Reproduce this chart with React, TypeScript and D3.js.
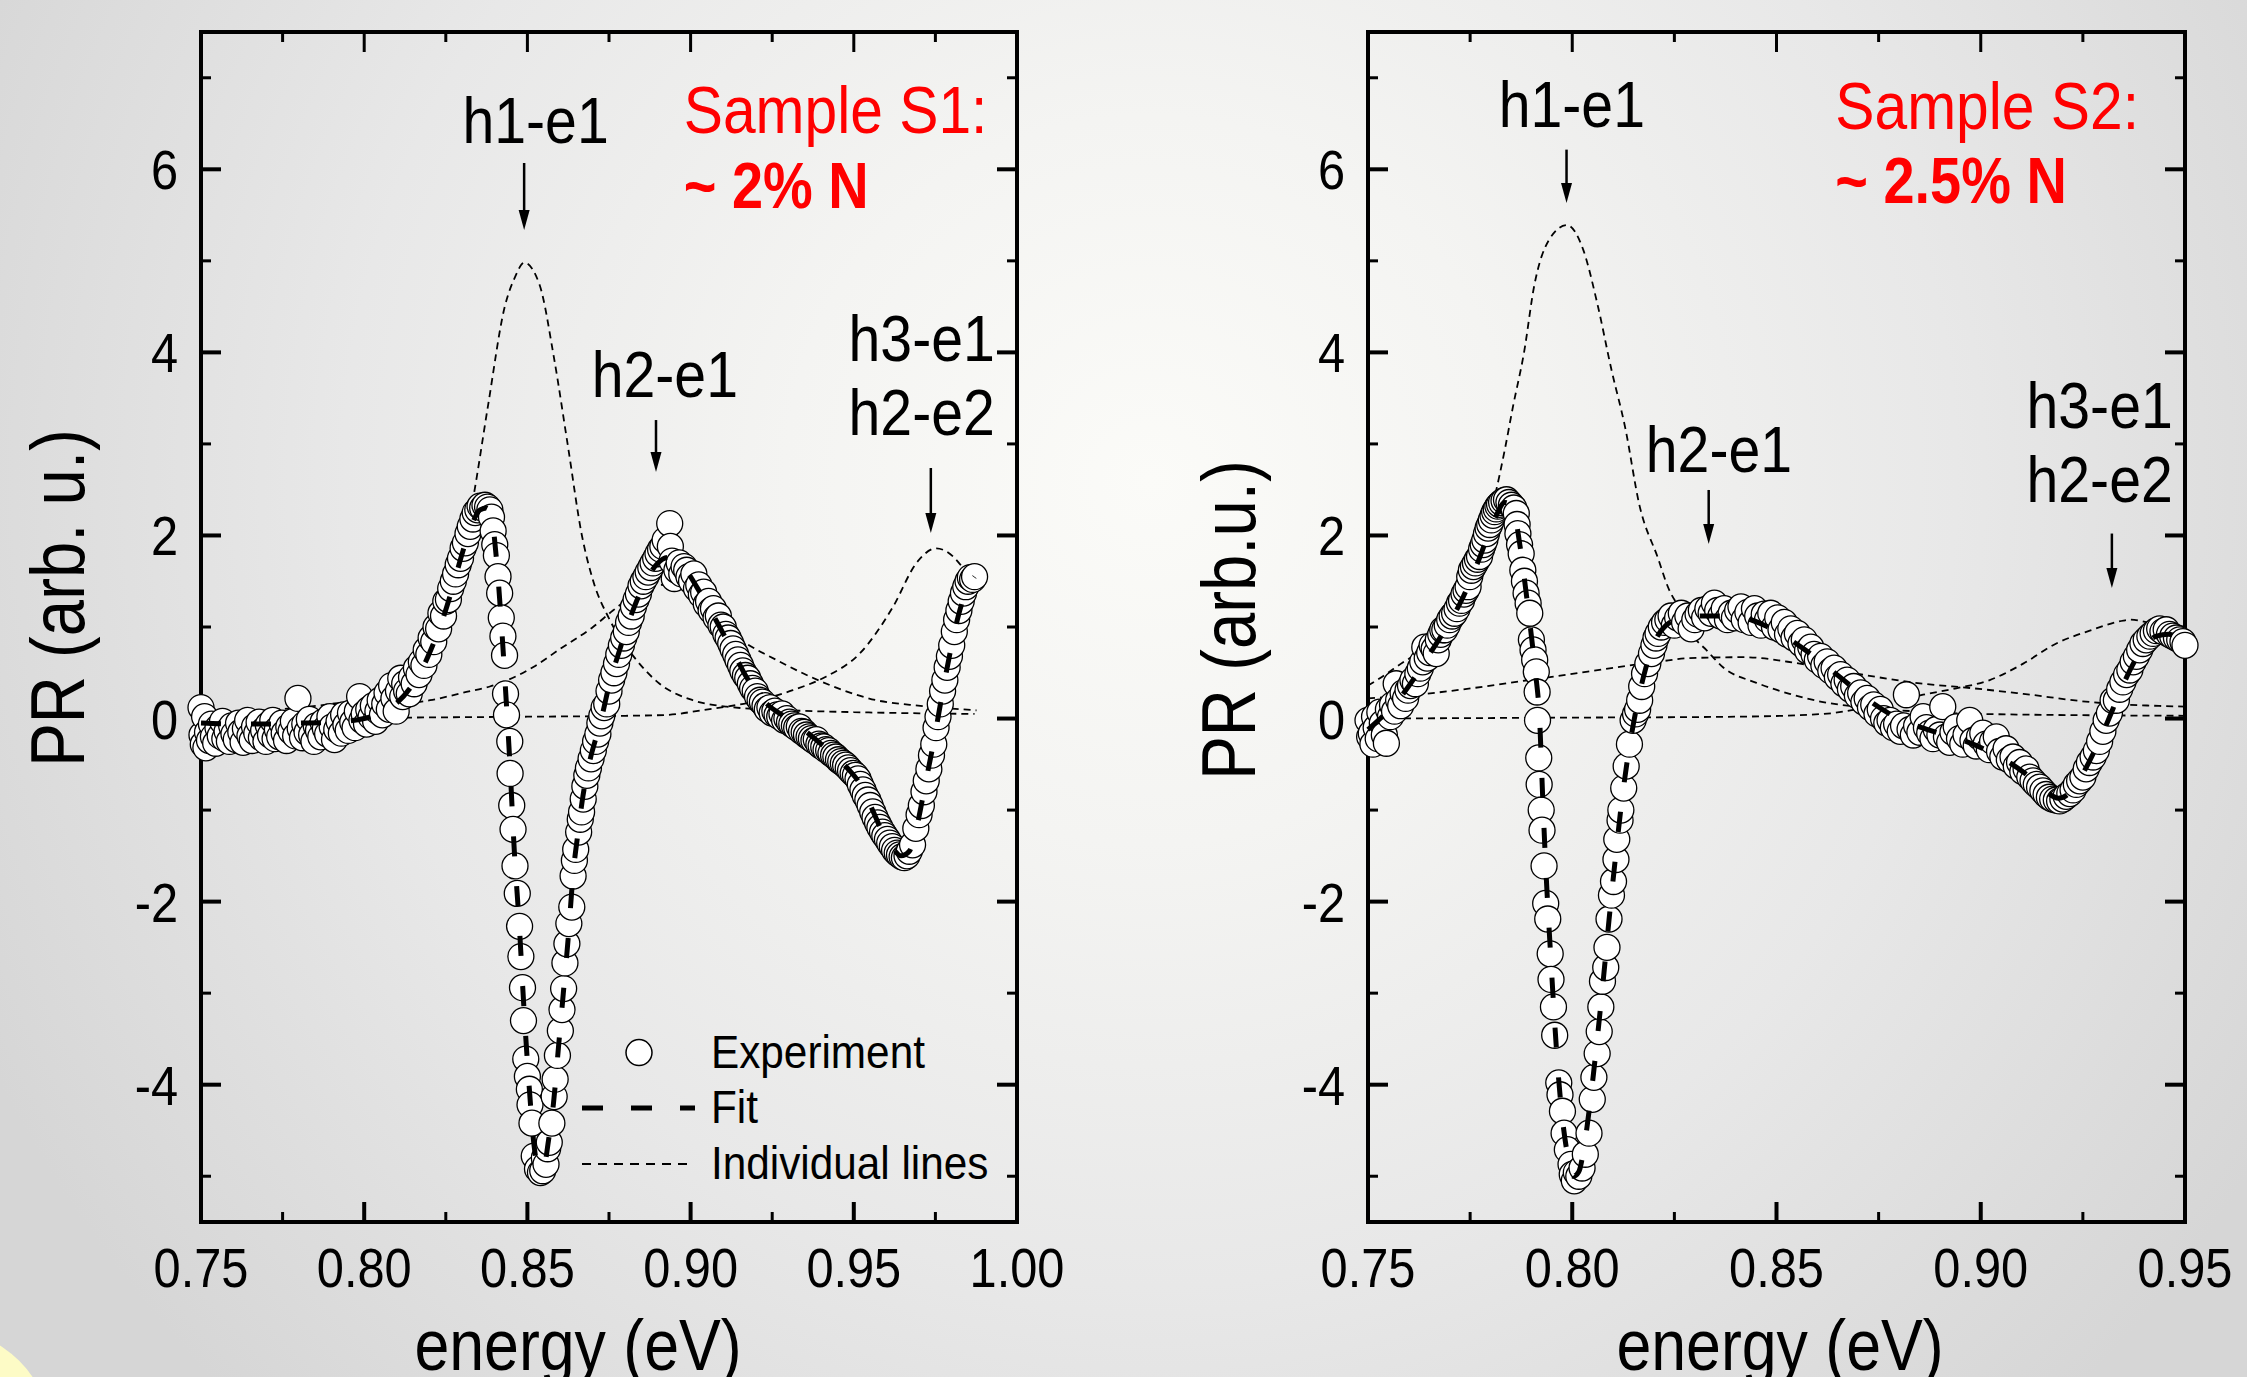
import * as React from "react";
import * as d3 from "d3";

type Pt = [number, number];

const W = 2247;
const H = 1377;
const FONT = '"Liberation Sans", Arial, Helvetica, sans-serif';

// shared PR axis
const yMajor = [-4, -2, 0, 2, 4, 6];
const yMinor = [-5, -3, -1, 1, 3, 5, 7];

// energy axes
const s1Major = [0.75, 0.8, 0.85, 0.9, 0.95, 1.0];
const s1Minor = [0.775, 0.825, 0.875, 0.925, 0.975];
const s2Major = [0.75, 0.8, 0.85, 0.9, 0.95];
const s2Minor = [0.775, 0.825, 0.875, 0.925];

// Sample S1 experiment (energy eV, PR)
const s1Exp: Pt[] = [
  [0.75, 0.12], [0.7503, -0.18], [0.7507, -0.28], [0.7511, 0.02], [0.7515, -0.32], [0.752, -0.15], [0.7526, -0.24],
  [0.7532, -0.06], [0.7538, -0.2], [0.7545, -0.27], [0.7552, -0.1], [0.7559, -0.19], [0.7566, -0.03], [0.7573, -0.22],
  [0.758, -0.14], [0.7587, -0.25], [0.7594, -0.08], [0.7601, -0.17], [0.7608, -0.23], [0.7615, -0.05], [0.7622, -0.15],
  [0.7629, -0.26], [0.7636, -0.11], [0.7643, -0.02], [0.765, -0.19], [0.7657, -0.24], [0.7664, -0.09], [0.7671, -0.16],
  [0.7678, -0.04], [0.7685, -0.21], [0.7692, -0.13], [0.7699, -0.25], [0.7706, -0.07], [0.7713, -0.18], [0.772, -0.02],
  [0.7727, -0.22], [0.7734, -0.12], [0.7741, -0.2], [0.7748, -0.05], [0.7755, -0.16], [0.7762, -0.24], [0.7769, -0.09],
  [0.7776, -0.14], [0.7783, -0.03], [0.779, -0.19], [0.7797, 0.22], [0.7804, -0.11], [0.7811, -0.21], [0.7818, -0.06],
  [0.7825, -0.15], [0.7832, -0.01], [0.7839, -0.18], [0.7846, -0.25], [0.7853, -0.08], [0.786, -0.13], [0.7867, -0.2],
  [0.7874, -0.04], [0.7881, -0.11], [0.7888, -0.17], [0.7895, 0.02], [0.7902, -0.09], [0.7909, -0.23], [0.7916, -0.12],
  [0.7923, -0.03], [0.793, -0.16], [0.7937, 0.04], [0.7944, -0.07], [0.7951, -0.13], [0.7958, 0.06], [0.7965, -0.04],
  [0.7972, -0.1], [0.7979, 0.08], [0.7986, 0.24], [0.7993, -0.02], [0.8, 0.05], [0.8007, -0.06], [0.8014, 0.1],
  [0.8021, 0.02], [0.8028, 0.14], [0.8035, -0.03], [0.8042, 0.08], [0.8049, 0.2], [0.8056, 0.04], [0.8063, 0.16],
  [0.807, 0.28], [0.8077, 0.1], [0.8084, 0.36], [0.8091, 0.22], [0.8098, 0.08], [0.8105, 0.3], [0.8112, 0.44],
  [0.8118, 0.24], [0.8124, 0.38], [0.813, 0.3], [0.8138, 0.27], [0.8145, 0.45], [0.8153, 0.38], [0.816, 0.55],
  [0.8168, 0.48], [0.8175, 0.62], [0.8183, 0.58], [0.819, 0.75], [0.8198, 0.7], [0.8205, 0.88], [0.8213, 0.84],
  [0.822, 1.0], [0.8228, 0.98], [0.8235, 1.15], [0.8243, 1.12], [0.825, 1.28], [0.8258, 1.3], [0.8265, 1.42],
  [0.8273, 1.5], [0.828, 1.58], [0.8288, 1.68], [0.8295, 1.75], [0.8303, 1.86], [0.831, 1.92], [0.8318, 2.02],
  [0.8325, 2.1], [0.8333, 2.18], [0.834, 2.25], [0.8348, 2.28], [0.8355, 2.32], [0.8363, 2.3], [0.837, 2.33],
  [0.8378, 2.31], [0.8385, 2.28], [0.839, 2.2], [0.8395, 2.05], [0.84, 1.9], [0.8405, 1.78], [0.841, 1.55],
  [0.8415, 1.37], [0.842, 1.1], [0.8425, 0.9], [0.843, 0.69], [0.8433, 0.27], [0.8436, 0.04], [0.8446, -0.25],
  [0.8447, -0.6], [0.8452, -0.95], [0.8456, -1.21], [0.8462, -1.61], [0.8469, -1.91], [0.8476, -2.27], [0.848, -2.6],
  [0.8485, -2.94], [0.8488, -3.3], [0.8495, -3.72], [0.85, -3.91], [0.8506, -4.05], [0.8508, -4.22], [0.8514, -4.42],
  [0.8521, -4.78], [0.8531, -4.92], [0.854, -4.96], [0.8547, -4.94], [0.8552, -4.8], [0.8557, -4.87], [0.8562, -4.7],
  [0.8567, -4.63], [0.8575, -4.42], [0.8582, -4.13], [0.8585, -3.94], [0.8592, -3.68], [0.8601, -3.41], [0.8606, -3.18],
  [0.8611, -2.95], [0.8615, -2.67], [0.8621, -2.46], [0.8627, -2.24], [0.8636, -2.06], [0.864, -1.72], [0.8644, -1.55],
  [0.8648, -1.43], [0.8657, -1.24], [0.8662, -1.1], [0.8666, -1.02], [0.8671, -0.88], [0.8676, -0.74], [0.8682, -0.62],
  [0.8687, -0.54], [0.8695, -0.44], [0.8702, -0.35], [0.8709, -0.25], [0.8716, -0.17], [0.8722, -0.05], [0.8728, 0.03],
  [0.8735, 0.12], [0.8743, 0.16], [0.875, 0.3], [0.8758, 0.42], [0.8765, 0.5], [0.8773, 0.6], [0.878, 0.7],
  [0.8788, 0.8], [0.8795, 0.88], [0.8803, 0.95], [0.881, 1.05], [0.8818, 1.12], [0.8825, 1.22], [0.8833, 1.3],
  [0.884, 1.36], [0.8848, 1.45], [0.8855, 1.5], [0.8863, 1.55], [0.887, 1.6], [0.8878, 1.65], [0.8885, 1.7],
  [0.8893, 1.75], [0.89, 1.8], [0.8908, 1.85], [0.8915, 1.88], [0.8922, 1.95], [0.8936, 2.13], [0.8938, 1.88],
  [0.8943, 1.72], [0.895, 1.53], [0.8958, 1.62], [0.8965, 1.7], [0.8973, 1.58], [0.898, 1.66], [0.8988, 1.62],
  [0.8995, 1.55], [0.9003, 1.5], [0.901, 1.58], [0.9018, 1.42], [0.9025, 1.46], [0.9033, 1.35], [0.904, 1.38],
  [0.9048, 1.25], [0.9055, 1.28], [0.9063, 1.18], [0.907, 1.2], [0.9078, 1.1], [0.9085, 1.12], [0.9093, 1.02],
  [0.91, 1.0], [0.9108, 0.92], [0.9115, 0.88], [0.9123, 0.82], [0.913, 0.76], [0.9138, 0.7], [0.9145, 0.64],
  [0.9153, 0.58], [0.916, 0.52], [0.9168, 0.47], [0.9175, 0.44], [0.9183, 0.38], [0.919, 0.33], [0.9198, 0.3],
  [0.9205, 0.24], [0.9213, 0.2], [0.922, 0.18], [0.9228, 0.14], [0.9235, 0.1], [0.9243, 0.12], [0.925, 0.06],
  [0.9258, 0.08], [0.9265, 0.04], [0.9273, 0.02], [0.928, 0.05], [0.9288, -0.02], [0.9295, 0.0], [0.9303, -0.04],
  [0.931, -0.06], [0.9318, -0.08], [0.9325, -0.1], [0.9333, -0.09], [0.934, -0.14], [0.9348, -0.15], [0.9355, -0.18],
  [0.9363, -0.2], [0.937, -0.22], [0.9378, -0.24], [0.9385, -0.23], [0.9393, -0.28], [0.94, -0.3], [0.9408, -0.31],
  [0.9415, -0.34], [0.9423, -0.35], [0.943, -0.38], [0.9438, -0.4], [0.9445, -0.42], [0.9453, -0.45], [0.946, -0.47],
  [0.9468, -0.49], [0.9475, -0.51], [0.9483, -0.54], [0.949, -0.57], [0.9498, -0.6], [0.9505, -0.62], [0.9513, -0.66],
  [0.952, -0.72], [0.9528, -0.78], [0.9535, -0.84], [0.9543, -0.89], [0.955, -0.95], [0.9558, -1.02], [0.9565, -1.08],
  [0.9573, -1.14], [0.958, -1.19], [0.9588, -1.24], [0.9595, -1.28], [0.9603, -1.32], [0.961, -1.36], [0.9618, -1.4],
  [0.9625, -1.44], [0.9633, -1.47], [0.964, -1.49], [0.9648, -1.51], [0.9655, -1.52], [0.9663, -1.5], [0.967, -1.45],
  [0.968, -1.38], [0.969, -1.2], [0.97, -1.05], [0.9707, -0.95], [0.9715, -0.8], [0.9722, -0.68], [0.973, -0.55],
  [0.9738, -0.4], [0.9745, -0.28], [0.9752, -0.1], [0.9758, 0.02], [0.9765, 0.16], [0.9772, 0.3], [0.9779, 0.42],
  [0.9786, 0.56], [0.9793, 0.68], [0.98, 0.8], [0.9808, 0.95], [0.9815, 1.08], [0.9822, 1.18], [0.9829, 1.28],
  [0.9836, 1.37], [0.9843, 1.44], [0.985, 1.5], [0.9857, 1.54], [0.9864, 1.52], [0.987, 1.55],
];

// Sample S1 fit
const s1Fit: Pt[] = [
  [0.75, -0.05], [0.76, -0.06], [0.77, -0.06], [0.78, -0.05], [0.79, -0.04], [0.8, 0.0], [0.805, 0.06], [0.81, 0.17],
  [0.815, 0.38], [0.818, 0.56], [0.821, 0.8], [0.824, 1.08], [0.827, 1.42], [0.83, 1.8], [0.833, 2.12], [0.8355, 2.28],
  [0.8375, 2.3], [0.839, 2.2], [0.8405, 1.75], [0.842, 1.05], [0.8435, 0.2], [0.8445, -0.4], [0.846, -1.45],
  [0.8475, -2.25], [0.849, -3.2], [0.8505, -4.0], [0.852, -4.65], [0.8535, -4.92], [0.855, -4.9], [0.8565, -4.6],
  [0.858, -4.2], [0.8595, -3.6], [0.861, -3.0], [0.8625, -2.4], [0.864, -1.7], [0.8655, -1.25], [0.867, -0.85],
  [0.869, -0.48], [0.8715, -0.15], [0.873, 0.05], [0.875, 0.36], [0.878, 0.72], [0.881, 1.05], [0.884, 1.33],
  [0.887, 1.55], [0.89, 1.7], [0.893, 1.76], [0.896, 1.72], [0.899, 1.6], [0.902, 1.43], [0.905, 1.25], [0.908, 1.06],
  [0.911, 0.86], [0.914, 0.66], [0.917, 0.46], [0.92, 0.3], [0.924, 0.14], [0.928, 0.04], [0.932, -0.06],
  [0.936, -0.16], [0.94, -0.28], [0.944, -0.4], [0.948, -0.54], [0.952, -0.72], [0.956, -1.02], [0.959, -1.26],
  [0.962, -1.42], [0.9645, -1.5], [0.967, -1.45], [0.9695, -1.15], [0.972, -0.7], [0.9745, -0.25], [0.977, 0.25],
  [0.9795, 0.72], [0.982, 1.12], [0.9845, 1.4], [0.987, 1.55],
];

// Sample S1 individual lines
const s1H1: Pt[] = [
  [0.75, 0.06], [0.77, 0.09], [0.78, 0.12], [0.79, 0.16], [0.797, 0.2], [0.8075, 0.38], [0.815, 0.64], [0.823, 1.1],
  [0.828, 1.5], [0.8333, 2.39], [0.8379, 3.41], [0.843, 4.49], [0.8463, 4.83], [0.849, 4.98], [0.8538, 4.73],
  [0.8581, 3.95], [0.8624, 2.98], [0.8667, 2.0], [0.8701, 1.51], [0.8752, 1.08], [0.8834, 0.64], [0.8905, 0.38],
  [0.9007, 0.2], [0.911, 0.13], [0.93, 0.09], [0.95, 0.07], [0.987, 0.05],
];
const s1H2: Pt[] = [
  [0.75, 0.02], [0.78, 0.05], [0.8, 0.1], [0.81, 0.15], [0.8202, 0.2], [0.8313, 0.29], [0.8385, 0.35], [0.8517, 0.56],
  [0.86, 0.76], [0.8701, 1.0], [0.8762, 1.18], [0.884, 1.38], [0.891, 1.46], [0.898, 1.4], [0.9038, 1.22],
  [0.9171, 0.82], [0.9263, 0.64], [0.9365, 0.46], [0.9467, 0.31], [0.9569, 0.2], [0.9672, 0.15], [0.9876, 0.09],
];
const s1H3: Pt[] = [
  [0.75, 0.0], [0.85, 0.02], [0.88, 0.03], [0.893, 0.04], [0.9033, 0.09], [0.9211, 0.2], [0.9313, 0.31],
  [0.9416, 0.46], [0.9518, 0.71], [0.962, 1.22], [0.9692, 1.7], [0.9753, 1.86], [0.9804, 1.77], [0.9845, 1.59],
  [0.987, 1.45],
];

// Sample S2 experiment
const s2Exp: Pt[] = [
  [0.75, -0.02], [0.7504, -0.2], [0.7508, -0.16], [0.7512, -0.28], [0.7516, 0.02], [0.752, -0.1], [0.7525, -0.22],
  [0.7529, 0.07], [0.7535, -0.05], [0.754, -0.18], [0.7545, -0.27], [0.755, 0.1], [0.7555, 0.02], [0.756, 0.15],
  [0.7565, 0.08], [0.7569, 0.38], [0.7575, 0.2], [0.758, 0.14], [0.7586, 0.28], [0.7592, 0.22], [0.7598, 0.31],
  [0.7604, 0.36], [0.761, 0.42], [0.7616, 0.38], [0.7622, 0.49], [0.7628, 0.55], [0.7634, 0.62], [0.7639, 0.78],
  [0.7645, 0.66], [0.7651, 0.72], [0.7657, 0.8], [0.7662, 0.76], [0.7667, 0.71], [0.7672, 0.86], [0.7678, 0.92],
  [0.7683, 0.97], [0.7688, 0.97], [0.7694, 1.02], [0.77, 1.08], [0.7706, 1.12], [0.7712, 1.15], [0.7718, 1.2],
  [0.7724, 1.26], [0.7729, 1.29], [0.7735, 1.36], [0.774, 1.4], [0.7745, 1.44], [0.7749, 1.55], [0.7753, 1.62],
  [0.7758, 1.66], [0.7763, 1.7], [0.7768, 1.74], [0.7773, 1.77], [0.7778, 1.85], [0.7782, 1.9], [0.7786, 1.95],
  [0.779, 2.02], [0.7794, 2.08], [0.7798, 2.12], [0.7802, 2.17], [0.7806, 2.22], [0.781, 2.26], [0.7814, 2.29],
  [0.7818, 2.32], [0.7822, 2.34], [0.7827, 2.36], [0.7833, 2.38], [0.7839, 2.39], [0.7845, 2.36], [0.7851, 2.33],
  [0.7857, 2.3], [0.7863, 2.24], [0.7865, 2.12], [0.7867, 2.02], [0.7871, 1.9], [0.7875, 1.8], [0.7879, 1.62],
  [0.7883, 1.5], [0.7887, 1.37], [0.7892, 1.26], [0.7896, 1.15], [0.79, 0.86], [0.7904, 0.75], [0.7908, 0.64],
  [0.7912, 0.51], [0.7914, 0.29], [0.7915, -0.02], [0.7918, -0.43], [0.7919, -0.72], [0.7924, -1.0], [0.7926, -1.22],
  [0.7931, -1.61], [0.7935, -2.02], [0.794, -2.19], [0.7946, -2.57], [0.7948, -2.85], [0.7954, -3.15], [0.7957, -3.46],
  [0.7967, -3.98], [0.797, -4.11], [0.7976, -4.29], [0.798, -4.53], [0.7988, -4.71], [0.7997, -4.87], [0.8, -4.98],
  [0.8005, -5.05], [0.801, -4.96], [0.8016, -5.0], [0.8024, -4.91], [0.8032, -4.76], [0.8041, -4.53], [0.8049, -4.16],
  [0.8053, -3.92], [0.8061, -3.66], [0.8066, -3.42], [0.807, -3.15], [0.8074, -2.87], [0.8082, -2.72], [0.8085, -2.5],
  [0.809, -2.19], [0.8096, -1.93], [0.8101, -1.78], [0.8107, -1.54], [0.8109, -1.32], [0.8117, -1.11], [0.8119, -1.0],
  [0.8126, -0.76], [0.8132, -0.52], [0.814, -0.28], [0.8149, -0.02], [0.8155, 0.05], [0.816, 0.1], [0.8165, 0.2],
  [0.817, 0.35], [0.8177, 0.49], [0.8185, 0.6], [0.8194, 0.71], [0.82, 0.8], [0.8205, 0.88], [0.821, 0.93],
  [0.8218, 1.0], [0.8226, 1.05], [0.8234, 1.08], [0.8242, 1.12], [0.825, 1.02], [0.8258, 1.1], [0.8267, 1.15],
  [0.8275, 1.05], [0.8283, 1.12], [0.8291, 0.98], [0.83, 1.08], [0.8308, 1.14], [0.8316, 1.18], [0.8324, 1.1],
  [0.8332, 1.2], [0.834, 1.15], [0.8348, 1.26], [0.8356, 1.18], [0.8364, 1.12], [0.8372, 1.2], [0.838, 1.08],
  [0.8389, 1.15], [0.8397, 1.1], [0.8405, 1.18], [0.8413, 1.22], [0.8421, 1.08], [0.843, 1.16], [0.8438, 1.05],
  [0.8446, 1.2], [0.8454, 1.12], [0.8462, 1.02], [0.847, 1.14], [0.8478, 1.08], [0.8486, 1.15], [0.8495, 1.0],
  [0.8503, 1.1], [0.8511, 0.97], [0.8519, 1.05], [0.8527, 0.92], [0.8535, 0.98], [0.8543, 0.88], [0.8551, 0.93],
  [0.856, 0.82], [0.8568, 0.86], [0.8576, 0.74], [0.8584, 0.78], [0.8592, 0.7], [0.86, 0.64], [0.8608, 0.68],
  [0.8616, 0.58], [0.8624, 0.62], [0.8633, 0.52], [0.8641, 0.55], [0.8649, 0.45], [0.8657, 0.48], [0.8665, 0.38],
  [0.8673, 0.42], [0.8681, 0.32], [0.8689, 0.35], [0.8698, 0.25], [0.8706, 0.28], [0.8714, 0.18], [0.8722, 0.22],
  [0.873, 0.12], [0.8738, 0.15], [0.8746, 0.05], [0.8754, 0.1], [0.8762, 0.0], [0.877, -0.05], [0.8778, -0.02],
  [0.8786, -0.1], [0.8794, -0.06], [0.8803, -0.14], [0.8811, -0.08], [0.8818, 0.26], [0.8827, -0.12], [0.8835, -0.18],
  [0.8843, -0.08], [0.8851, -0.15], [0.8859, 0.02], [0.8867, -0.1], [0.8875, -0.16], [0.8883, -0.22], [0.8891, -0.12],
  [0.89, -0.18], [0.8907, 0.13], [0.8916, -0.2], [0.8924, -0.26], [0.8932, -0.15], [0.894, -0.09], [0.8948, -0.22],
  [0.8956, -0.28], [0.8964, -0.18], [0.8973, -0.02], [0.8981, -0.24], [0.8989, -0.3], [0.8997, -0.2], [0.9005, -0.16],
  [0.9013, -0.28], [0.9021, -0.34], [0.9029, -0.25], [0.9038, -0.2], [0.9046, -0.36], [0.9054, -0.42], [0.9062, -0.33],
  [0.907, -0.45], [0.9079, -0.42], [0.9087, -0.52], [0.9095, -0.48], [0.9103, -0.58], [0.9111, -0.55], [0.912, -0.64],
  [0.9128, -0.68], [0.9136, -0.72], [0.9144, -0.75], [0.9152, -0.79], [0.916, -0.83], [0.9168, -0.86], [0.9176, -0.88],
  [0.9185, -0.89], [0.9193, -0.9], [0.9201, -0.88], [0.9209, -0.85], [0.9218, -0.82], [0.9226, -0.78], [0.9234, -0.72],
  [0.9242, -0.68], [0.925, -0.64], [0.9258, -0.55], [0.9266, -0.48], [0.9275, -0.42], [0.9283, -0.35], [0.9291, -0.25],
  [0.9299, -0.14], [0.9307, -0.02], [0.9315, 0.06], [0.9324, 0.2], [0.9332, 0.2], [0.934, 0.32], [0.9348, 0.4],
  [0.9357, 0.48], [0.9365, 0.53], [0.9373, 0.62], [0.9381, 0.68], [0.9389, 0.75], [0.9397, 0.82], [0.9405, 0.86],
  [0.9414, 0.9], [0.9422, 0.93], [0.943, 0.96], [0.9438, 0.98], [0.9446, 0.95], [0.9454, 0.97], [0.9462, 0.92],
  [0.947, 0.9], [0.9479, 0.88], [0.9487, 0.86], [0.9495, 0.84], [0.95, 0.8],
];

// Sample S2 fit
const s2Fit: Pt[] = [
  [0.75, -0.12], [0.753, 0.0], [0.757, 0.18], [0.761, 0.42], [0.765, 0.7], [0.769, 0.98], [0.773, 1.3], [0.777, 1.72],
  [0.781, 2.18], [0.7835, 2.36], [0.7855, 2.3], [0.787, 1.95], [0.7885, 1.45], [0.79, 0.9], [0.791, 0.5], [0.792, 0.0],
  [0.7928, -0.9], [0.7936, -1.7], [0.7946, -2.5], [0.7956, -3.25], [0.7966, -3.9], [0.7978, -4.45], [0.799, -4.8],
  [0.8003, -5.0], [0.8016, -4.95], [0.803, -4.65], [0.8045, -4.15], [0.806, -3.55], [0.8075, -2.9], [0.809, -2.2],
  [0.8105, -1.55], [0.812, -0.95], [0.8135, -0.45], [0.815, -0.05], [0.8165, 0.28], [0.818, 0.55], [0.82, 0.82],
  [0.823, 1.02], [0.827, 1.1], [0.832, 1.12], [0.837, 1.12], [0.842, 1.1], [0.847, 1.02], [0.852, 0.9], [0.857, 0.75],
  [0.862, 0.58], [0.867, 0.4], [0.872, 0.22], [0.877, 0.07], [0.882, -0.04], [0.887, -0.12], [0.892, -0.19],
  [0.897, -0.26], [0.902, -0.36], [0.907, -0.48], [0.912, -0.64], [0.916, -0.8], [0.919, -0.87], [0.922, -0.8],
  [0.925, -0.6], [0.928, -0.34], [0.931, -0.04], [0.934, 0.28], [0.937, 0.57], [0.94, 0.78], [0.943, 0.9],
  [0.946, 0.92], [0.95, 0.82],
];

// Sample S2 individual lines
const s2H1: Pt[] = [
  [0.75, 0.36], [0.7529, 0.44], [0.7581, 0.6], [0.764, 0.78], [0.77, 1.1], [0.775, 1.6], [0.781, 2.42], [0.7835, 2.94],
  [0.7855, 3.41], [0.7882, 4.0], [0.7907, 4.73], [0.7942, 5.22], [0.7987, 5.39], [0.8027, 5.12], [0.8061, 4.54],
  [0.8096, 3.81], [0.813, 3.17], [0.8164, 2.34], [0.821, 1.75], [0.8234, 1.44], [0.8267, 1.17], [0.83, 0.88],
  [0.8328, 0.75], [0.8369, 0.56], [0.8451, 0.39], [0.8532, 0.27], [0.8614, 0.18], [0.8696, 0.13], [0.88, 0.09],
  [0.9, 0.05], [0.95, 0.03],
];
const s2H2: Pt[] = [
  [0.75, 0.22], [0.7639, 0.27], [0.7941, 0.45], [0.8226, 0.63], [0.8287, 0.66], [0.8422, 0.67], [0.8557, 0.6],
  [0.8696, 0.49], [0.8859, 0.38], [0.8982, 0.33], [0.9104, 0.27], [0.9268, 0.18], [0.95, 0.13],
];
const s2H3: Pt[] = [
  [0.75, 0.0], [0.8, 0.01], [0.84, 0.02], [0.8614, 0.05], [0.8696, 0.1], [0.8777, 0.18], [0.8859, 0.26], [0.894, 0.33],
  [0.9022, 0.42], [0.9104, 0.6], [0.9185, 0.82], [0.9267, 0.96], [0.9349, 1.07], [0.9365, 1.08], [0.943, 1.02],
  [0.95, 0.9],
];

// annotation text and where it sits (energy, PR)
const s1Labels = [
  { text: "h1-e1", e: 0.8525, v: 6.29 },
  { text: "h2-e1", e: 0.8921, v: 3.51 },
  { text: "h3-e1", e: 0.9708, v: 3.906 },
  { text: "h2-e2", e: 0.9708, v: 3.098 },
];
const s1Arrows = [
  { e: 0.849, from: 6.069, to: 5.337 },
  { e: 0.8894, from: 3.261, to: 2.693 },
  { e: 0.9736, from: 2.737, to: 2.027 },
];
const s2Labels = [
  { text: "h1-e1", e: 0.7999, v: 6.462 },
  { text: "h2-e1", e: 0.8359, v: 2.693 },
  { text: "h3-e1", e: 0.9291, v: 3.174 },
  { text: "h2-e2", e: 0.9291, v: 2.366 },
];
const s2Arrows = [
  { e: 0.7986, from: 6.215, to: 5.632 },
  { e: 0.8334, from: 2.497, to: 1.907 },
  { e: 0.9321, from: 2.021, to: 1.426 },
];

const legendItems = ["Experiment", "Fit", "Individual lines"];

const yScale = d3.scaleLinear().domain([-5.5, 7.5]).range([1222, 32]);

// condensed-looking text like the original
function Txt({ x, y, size, sx = 0.88, anchor = "start", fill = "#000", weight = 400, rotate = 0, children }: any) {
  const tr = `translate(${x},${y})${rotate ? ` rotate(${rotate})` : ""} scale(${sx},1)`;
  return (
    <text transform={tr} fontSize={size} fontFamily={FONT} fontWeight={weight} textAnchor={anchor} fill={fill}>
      {children}
    </text>
  );
}

function Panel(props: any) {
  const { left, right, domain, major, minor, exp, fit, lines, labels, arrows, sample, yTitle, yTitleX, yTitleY, xTitleX, legend } = props;
  const x = d3.scaleLinear().domain(domain).range([left, right]);
  const y = yScale;
  const top = y(7.5);
  const bottom = y(-5.5);
  const line = d3
    .line<Pt>()
    .x((d) => x(d[0]))
    .y((d) => y(d[1]))
    .curve(d3.curveMonotoneX);

  const fmt = d3.format(".2f");

  return (
    <g>
      {/* frame */}
      <rect x={left} y={top} width={right - left} height={bottom - top} fill="none" stroke="#000" strokeWidth={4} />

      {/* x ticks, bottom and top, pointing inward */}
      {major.map((t: number) => (
        <g key={"xm" + t}>
          <line x1={x(t)} x2={x(t)} y1={bottom} y2={bottom - 20} stroke="#000" strokeWidth={4} />
          <line x1={x(t)} x2={x(t)} y1={top} y2={top + 20} stroke="#000" strokeWidth={3} />
          <Txt x={x(t)} y={bottom + 65} size={56} sx={0.87} anchor="middle">
            {fmt(t)}
          </Txt>
        </g>
      ))}
      {minor.map((t: number) => (
        <g key={"xn" + t}>
          <line x1={x(t)} x2={x(t)} y1={bottom} y2={bottom - 10} stroke="#000" strokeWidth={3} />
          <line x1={x(t)} x2={x(t)} y1={top} y2={top + 10} stroke="#000" strokeWidth={3} />
        </g>
      ))}

      {/* y ticks on both sides */}
      {yMajor.map((t) => (
        <g key={"ym" + t}>
          <line x1={left} x2={left + 20} y1={y(t)} y2={y(t)} stroke="#000" strokeWidth={4} />
          <line x1={right} x2={right - 20} y1={y(t)} y2={y(t)} stroke="#000" strokeWidth={4} />
          <Txt x={left - 23} y={y(t) + 20} size={56} sx={0.87} anchor="end">
            {String(t)}
          </Txt>
        </g>
      ))}
      {yMinor.map((t) => (
        <g key={"yn" + t}>
          <line x1={left} x2={left + 10} y1={y(t)} y2={y(t)} stroke="#000" strokeWidth={3} />
          <line x1={right} x2={right - 10} y1={y(t)} y2={y(t)} stroke="#000" strokeWidth={3} />
        </g>
      ))}

      {/* individual lines */}
      {lines.map((l: Pt[], i: number) => (
        <path key={"il" + i} d={line(l) || ""} fill="none" stroke="#000" strokeWidth={1.8} strokeDasharray="7 5" />
      ))}

      {/* experiment */}
      {exp.map((d: Pt, i: number) => (
        <circle key={"c" + i} cx={x(d[0])} cy={y(d[1])} r={13} fill="#fff" stroke="#000" strokeWidth={1.3} />
      ))}

      {/* fit */}
      <path d={line(fit) || ""} fill="none" stroke="#000" strokeWidth={5} strokeDasharray="20 30" />

      {/* peak labels and arrows */}
      {labels.map((l: any, i: number) => (
        <Txt key={"lb" + i} x={x(l.e)} y={y(l.v)} size={65} anchor="middle">
          {l.text}
        </Txt>
      ))}
      {arrows.map((a: any, i: number) => {
        const ax = x(a.e);
        const y1 = y(a.from);
        const y2 = y(a.to);
        return (
          <g key={"ar" + i}>
            <line x1={ax} x2={ax} y1={y1} y2={y2 - 16} stroke="#000" strokeWidth={2.5} />
            <path d={`M${ax - 5.5},${y2 - 20}L${ax + 5.5},${y2 - 20}L${ax},${y2}Z`} fill="#000" />
          </g>
        );
      })}

      {/* sample tag */}
      <Txt x={x(sample.e)} y={y(sample.v1)} size={66} sx={0.89} fill="#ff0000">
        {sample.line1}
      </Txt>
      <Txt x={x(sample.e)} y={y(sample.v2)} size={65} sx={0.86} fill="#ff0000" weight={700}>
        {sample.line2}
      </Txt>

      {/* axis titles */}
      <Txt x={yTitleX} y={yTitleY} size={76} sx={0.86} anchor="middle" rotate={-90}>
        {yTitle}
      </Txt>
      <Txt x={xTitleX} y={1370} size={72} sx={0.87} anchor="middle">
        energy (eV)
      </Txt>

      {legend && (
        <g>
          <circle cx={639} cy={1052.6} r={13} fill="#fff" stroke="#000" strokeWidth={1.5} />
          <line x1={582} x2={695} y1={1108} y2={1108} stroke="#000" strokeWidth={5} strokeDasharray="21 28" />
          <line x1={582} x2={692} y1={1164} y2={1164} stroke="#000" strokeWidth={1.8} strokeDasharray="9 7" />
          {legendItems.map((t, i) => (
            <Txt key={t} x={711} y={[1068, 1123, 1179][i]} size={47} sx={0.9}>
              {t}
            </Txt>
          ))}
        </g>
      )}
    </g>
  );
}

export default function App() {
  return (
    <svg width={W} height={H} viewBox={`0 0 ${W} ${H}`} style={{ position: "absolute", left: 0, top: 0 }}>
      <defs>
        <radialGradient id="bg" gradientUnits="userSpaceOnUse" cx={1150} cy={480} r={1300}>
          <stop offset="0" stopColor="#fbfbf8" />
          <stop offset="0.28" stopColor="#f4f4f2" />
          <stop offset="0.62" stopColor="#e8e8e8" />
          <stop offset="1" stopColor="#d6d6d6" />
        </radialGradient>
      </defs>
      <rect x={0} y={0} width={W} height={H} fill="url(#bg)" />
      <circle cx={-60} cy={1440} r={112} fill="#fdfbc6" />

      <Panel
        left={201}
        right={1017}
        domain={[0.75, 1.0]}
        major={s1Major}
        minor={s1Minor}
        exp={s1Exp}
        fit={s1Fit}
        lines={[s1H1, s1H2, s1H3]}
        labels={s1Labels}
        arrows={s1Arrows}
        sample={{ e: 0.8979, v1: 6.397, v2: 5.582, line1: "Sample S1:", line2: "~ 2% N" }}
        yTitle="PR (arb. u.)"
        yTitleX={84}
        yTitleY={598}
        xTitleX={578}
        legend
      />
      <Panel
        left={1368}
        right={2185}
        domain={[0.75, 0.95]}
        major={s2Major}
        minor={s2Minor}
        exp={s2Exp}
        fit={s2Fit}
        lines={[s2H1, s2H2, s2H3]}
        labels={s2Labels}
        arrows={s2Arrows}
        sample={{ e: 0.8644, v1: 6.445, v2: 5.632, line1: "Sample S2:", line2: "~ 2.5% N" }}
        yTitle="PR (arb.u.)"
        yTitleX={1255}
        yTitleY={620}
        xTitleX={1780}
        legend={false}
      />
    </svg>
  );
}
